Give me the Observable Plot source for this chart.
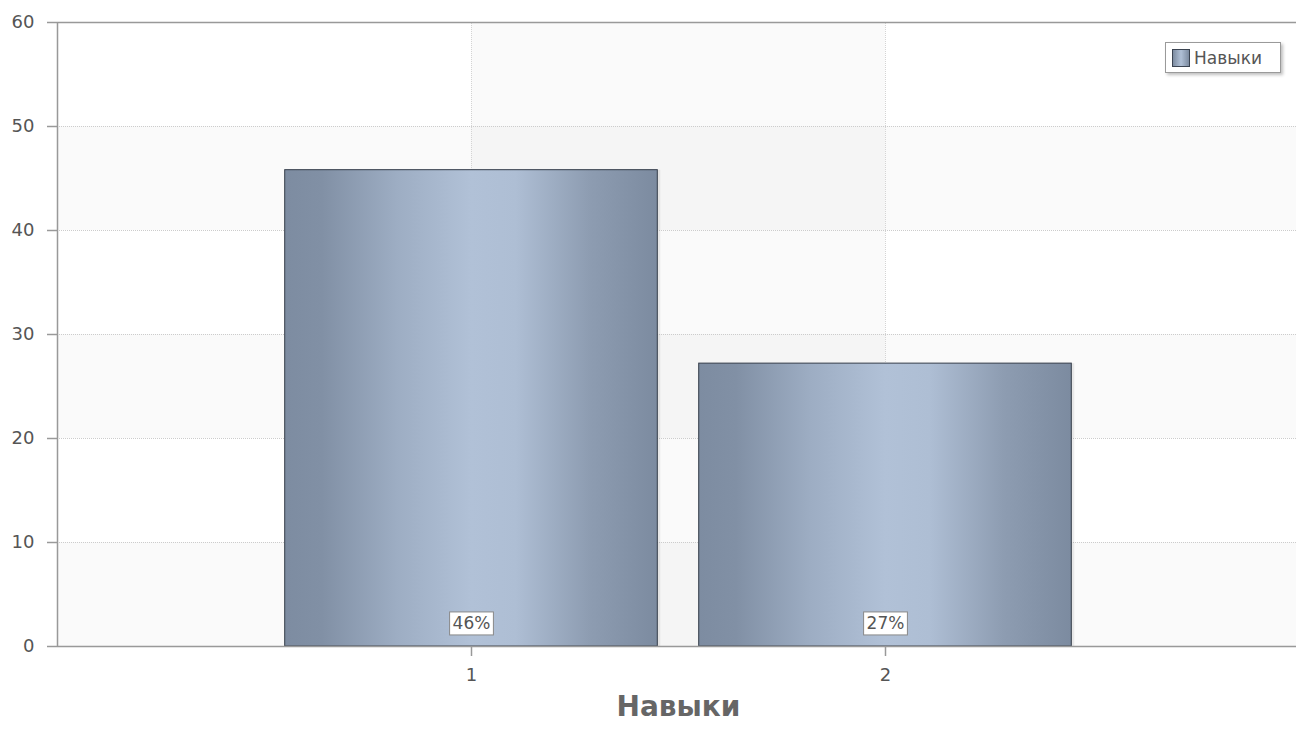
<!DOCTYPE html>
<html>
<head>
<meta charset="utf-8">
<script src="https://cdn.jsdelivr.net/npm/d3@7"></script>
<script src="https://cdn.jsdelivr.net/npm/@observablehq/plot@0.6"></script>
<style>
  body { margin: 0; background: #fff; }
  #wrap { position: relative; width: 1296px; height: 731px; font-family: "DejaVu Sans", sans-serif; }
  #legend { position: absolute; left: 1165px; top: 42px; width: 116px; height: 31px; box-sizing: border-box;
    border: 1px solid #9a9a9a; background: #fff; box-shadow: 2px 2px 3px rgba(0,0,0,0.25);
    display: flex; align-items: center; font-size: 17px; color: #555; }
  #legend .sw { width: 16px; height: 16px; margin-left: 6px; margin-right: 4px; border: 1px solid #3b4452;
    background: linear-gradient(to right, #7c8ba0, #b0c0d6 50%, #7c8ba0); }
  svg [aria-label="y-axis tick"] path, svg [aria-label="x-axis tick"] path { stroke: #999; stroke-width: 1.5; }
</style>
</head>
<body>
<div id="wrap"></div>
<script>
const categories = [1, 2];
const values = [45.8, 27.2];
const labels = ["46%", "27%"];
const yTicks = [0, 10, 20, 30, 40, 50, 60];
const seriesName = "Навыки";
const axisTitle = "Навыки";

const data = categories.map((c, i) => ({ c, v: values[i], label: labels[i] }));
const hBands = [0, 20, 40].map(y => ({ y1: y, y2: y + 10 }));
const vBands = [{ x1: 1, x2: 2 }];

const chart = Plot.plot({
  width: 1296, height: 731,
  marginLeft: 57, marginRight: -3, marginTop: 22, marginBottom: 85,
  style: { fontFamily: "DejaVu Sans, sans-serif", background: "#fff", overflow: "visible" },
  x: { domain: [0, 3], axis: null },
  y: { domain: [0, 60], axis: null },
  marks: [
    Plot.rectY(hBands, { x1: 0, x2: 3, y1: "y1", y2: "y2", fill: "#000", fillOpacity: 0.018 }),
    Plot.rectY(vBands, { x1: "x1", x2: "x2", y1: 0, y2: 60, fill: "#000", fillOpacity: 0.02 }),
    Plot.ruleY(yTicks.slice(1, -1), { stroke: "#cccccc", strokeDasharray: "1,1" }),
    Plot.ruleX(categories, { y1: 0, y2: 60, stroke: "#d4d4d4", strokeDasharray: "1,1" }),
    Plot.rectY(data, { x1: d => d.c - 0.45, x2: d => d.c + 0.45, y1: 0, y2: "v", fill: "#000", fillOpacity: 0.07, dx: 3, dy: 0 }),
    Plot.rectY(data, { x1: d => d.c - 0.45, x2: d => d.c + 0.45, y1: 0, y2: "v", fill: "url(#barGrad)", stroke: "#343c49", strokeWidth: 1 }),
    Plot.ruleY([0, 60], { stroke: "#999", strokeWidth: 1.5 }),
    Plot.ruleX([0], { y1: 0, y2: 60, stroke: "#999", strokeWidth: 1.5 }),
    Plot.axisY(yTicks, { tickSize: 10, tickPadding: 13, fontSize: 18, color: "#555", label: null }),
    Plot.axisX(categories, { tickSize: 10, tickPadding: 12, fontSize: 18, color: "#555", label: null, tickFormat: d3.format("d") }),
    Plot.text(data, { x: "c", y: 0, text: "label", dy: -23, fontSize: 17, fill: "#555" }),
    Plot.text([axisTitle], { frameAnchor: "bottom", dy: 69, fontSize: 28, fontWeight: "bold", fill: "#666" })
  ]
});

d3.select(chart).insert("defs", ":first-child").html(`
  <linearGradient id="barGrad" x1="0" y1="0" x2="1" y2="0">
    <stop offset="0" stop-color="#7d8ca1"/>
    <stop offset="0.1" stop-color="#8190a5"/>
    <stop offset="0.3" stop-color="#9dadc3"/>
    <stop offset="0.5" stop-color="#b1c1d7"/>
    <stop offset="0.62" stop-color="#aebed4"/>
    <stop offset="0.82" stop-color="#8d9cb1"/>
    <stop offset="1" stop-color="#7c8ba0"/>
  </linearGradient>`);

const wrap = document.getElementById("wrap");
wrap.appendChild(chart);

// boxes behind bar labels
d3.select(chart).selectAll("text").each(function () {
  if (labels.includes(this.textContent)) {
    const b = this.getBBox();
    const r = document.createElementNS("http://www.w3.org/2000/svg", "rect");
    r.setAttribute("x", b.x - 3);
    r.setAttribute("y", b.y - 1);
    r.setAttribute("width", b.width + 6);
    r.setAttribute("height", b.height + 3);
    r.setAttribute("fill", "#fff");
    r.setAttribute("stroke", "#888");
    const t = this.getAttribute("transform");
    if (t) r.setAttribute("transform", t);
    this.parentNode.insertBefore(r, this);
  }
});

const legend = document.createElement("div");
legend.id = "legend";
legend.innerHTML = `<div class="sw"></div><span>${seriesName}</span>`;
wrap.appendChild(legend);
</script>
</body>
</html>
